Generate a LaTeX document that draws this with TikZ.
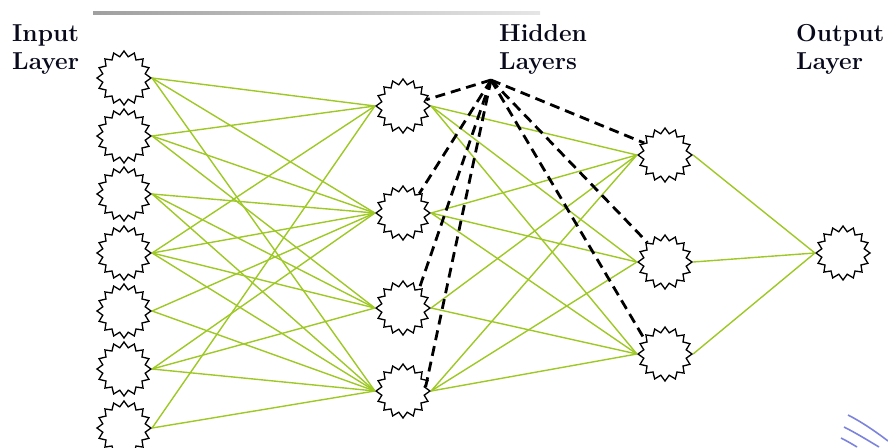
\documentclass[tikz,border=0pt]{standalone}
\usepackage{fontspec}
\usetikzlibrary{shapes.geometric}
\definecolor{syncol}{RGB}{158,200,36}
\definecolor{txt}{RGB}{8,10,28}
\definecolor{scan}{RGB}{80,90,210}
\begin{document}
\begin{tikzpicture}[x=1pt,y=-1pt,
  neuron/.style={star,star points=16,star point ratio=1.25,minimum size=54pt,inner sep=0pt,draw=black,fill=white,line width=1.3pt},
  syn/.style={draw=syncol,line width=1.4pt},
  link/.style={draw=black,line width=2.8pt,dash pattern=on 10pt off 6pt},
  lbl/.style={font=\fontsize{24.5}{28}\selectfont\bfseries,text=txt,inner sep=0pt,anchor=base west}]
\useasboundingbox (0,0) rectangle (888,447);
\clip (0,0) rectangle (888,447);

% scan artefacts
\shade[left color=gray!75,right color=gray!20] (93,11.5) rectangle (540,14.5);
\draw[scan,line width=1.6pt,opacity=.75] (848,415) .. controls (860,421) and (875,431) .. (888,441);
\draw[scan,line width=1.6pt,opacity=.75] (844,427) .. controls (856,433) and (869,441) .. (879,447);
\draw[scan,line width=1.6pt,opacity=.75] (841,438) .. controls (847,441) and (852,444) .. (857,447);

% labels
\node[lbl] (inA) at (12,41) {Input};
\node[lbl] (inB) at (12,69) {Layer};
\node[lbl] (hiA) at (499,41) {Hidden};
\node[lbl] (hiB) at (499,69) {Layers};
\node[lbl] (ouA) at (796,41) {Output};
\node[lbl] (ouB) at (796,69) {Layer};

% neurons
\foreach \i/\y in {1/78,2/136,3/194,4/253,5/311,6/369,7/428}
  \node[neuron] (I\i) at (124,\y) {};
\foreach \i/\y in {1/106,2/213,3/308,4/391}
  \node[neuron] (H\i) at (403,\y) {};
\foreach \i/\y in {1/155,2/262,3/354}
  \node[neuron] (G\i) at (665,\y) {};
\node[neuron] (O) at (843,253) {};

% synapses input -> hidden 1
\foreach \a/\b in {1/1,1/2,1/4, 2/1,2/2,2/3, 3/2,3/3,3/4, 4/1,4/2,4/3,4/4, 5/2,5/4, 6/2,6/3,6/4, 7/1,7/4}
  \draw[syn] (I\a.east) -- (H\b.west);
% hidden 1 -> hidden 2
\foreach \a/\b in {1/1,1/2,1/3, 2/1,2/2,2/3, 3/1,3/3, 4/1,4/2,4/3}
  \draw[syn] (H\a.east) -- (G\b.west);
% hidden 2 -> output
\foreach \a in {1,2,3}
  \draw[syn] (G\a.east) -- (O.west);

% dashed pointers from the label
\coordinate (apex) at (491,80);
\draw[link] (apex) -- (H1.15);
\draw[link] (apex) -- (H2.50);
\draw[link] (apex) -- (H3.50);
\draw[link] (apex) -- (H4.10);
\draw[link] (apex) -- (G1.150);
\draw[link] (apex) -- (G2.132);
\draw[link] (apex) -- (G3.147);
\end{tikzpicture}
\end{document}
